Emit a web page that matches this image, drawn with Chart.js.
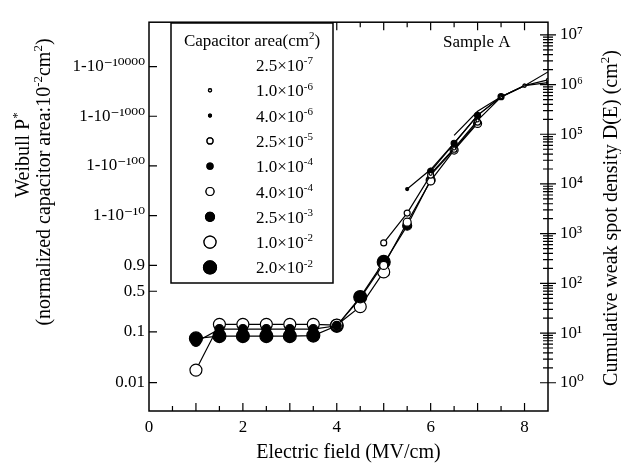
<!DOCTYPE html>
<html>
<head>
<meta charset="utf-8">
<script src="https://cdn.jsdelivr.net/npm/chart.js@4.4.0/dist/chart.umd.min.js"></script>
<style>
    html, body { margin: 0; padding: 0; background: #fff; }
</style>
</head>
<body>
<canvas id="graficaWeibull" width="621" height="467"></canvas>
<script>
// areas de capacitor (cm2) para la leyenda
var areaBase = ["2.5×10", "1.0×10", "4.0×10", "2.5×10", "1.0×10", "4.0×10", "2.5×10", "1.0×10", "2.0×10"];
var areaExp = ["-7", "-6", "-6", "-5", "-4", "-4", "-3", "-2", "-2"];

// campo electrico (MV/cm) y densidad acumulada D(E) (cm-2) de cada serie
var campo_A1 = [6.5, 7, 7.5, 8, 8.5];
var dens_A1 = [9.5e4, 2.9e5, 5.7e5, 9.5e5, 1.8e6];
var campo_A2 = [6, 6.5, 7, 7.5, 8, 8.5];
var dens_A2 = [1.6e4, 5.2e4, 1.9e5, 5.6e5, 9.5e5, 1.25e6];
var campo_A3 = [5.5, 6, 6.5, 7, 7.5, 8, 8.5];
var dens_A3 = [7.9e3, 1.95e4, 6.6e4, 2.4e5, 5.7e5, 9.5e5, 1.1e6];
var campo_A4 = [5, 5.5, 6, 6.5, 7];
var dens_A4 = [650, 2.6e3, 1.5e4, 5.0e4, 1.75e5];
var campo_A5 = [6, 6.5, 7, 7.5];
var dens_A5 = [1.8e4, 6.6e4, 2.4e5, 5.7e5];
var campo_A6 = [5, 5.5, 6, 6.5, 7];
var dens_A6 = [230, 1.7e3, 1.15e4, 4.8e4, 1.65e5];
var campo_A7 = [1, 1.5, 2, 2.5, 3, 3.5, 4, 4.5, 5, 5.5, 6];
var dens_A7 = [6.6, 12, 12, 12, 12, 12, 14, 50, 250, 1.45e3, 1.2e4];
var campo_A8 = [1, 1.5, 2, 2.5, 3, 3.5, 4, 4.5, 5];
var dens_A8 = [1.8, 15, 15, 15, 15, 15, 14.5, 34, 170];
var campo_A9 = [1, 1.5, 2, 2.5, 3, 3.5, 4, 4.5, 5];
var dens_A9 = [7.8, 8.7, 8.7, 8.7, 8.7, 8.9, 14, 53, 270];

// etiquetas del eje Weibull (izquierda)
var weibullP = [0.01, 0.1, 0.5, 0.9];
var weibullExp = [10, 100, 1000, 10000];
var areaNorm = 1e-2;

// estilo de marcadores
var radios = [0, 1.5, 1.5, 3, 3, 4, 4.5, 6, 6.5];
var rellenos = [false, false, true, false, true, false, true, false, true];

var campos = [campo_A1, campo_A2, campo_A3, campo_A4, campo_A5, campo_A6, campo_A7, campo_A8, campo_A9];
var densidades = [dens_A1, dens_A2, dens_A3, dens_A4, dens_A5, dens_A6, dens_A7, dens_A8, dens_A9];

var supMap = { "-": "⁻", "0": "⁰", "1": "¹", "2": "²", "3": "³", "4": "⁴", "5": "⁵", "6": "⁶", "7": "⁷", "8": "⁸", "9": "⁹" };
function sup(s) {
    return String(s).split("").map(function (c) { return supMap[c] || c; }).join("");
}

var weibullValores = [];
var weibullEtiquetas = [];
weibullP.forEach(function (p) {
    weibullValores.push(-Math.log(1 - p) / areaNorm);
    weibullEtiquetas.push(String(p));
});
weibullExp.forEach(function (n) {
    weibullValores.push(n * Math.LN10 / areaNorm);
    weibullEtiquetas.push("1-10" + sup("-" + n));
});

var FUENTE = '"Liberation Serif", "DejaVu Serif", serif';
function fuente(tam) { return tam + "px " + FUENTE; }

function textoRico(ctx, partes, x, y, tam, alinear) {
    var ancho = 0;
    partes.forEach(function (p) {
        ctx.font = fuente(p[1] ? Math.round(tam * 0.65) : tam);
        ancho += ctx.measureText(p[0]).width;
    });
    var xi = alinear === "center" ? x - ancho / 2 : (alinear === "right" ? x - ancho : x);
    ctx.textAlign = "left";
    ctx.textBaseline = "alphabetic";
    partes.forEach(function (p) {
        ctx.font = fuente(p[1] ? Math.round(tam * 0.65) : tam);
        ctx.fillText(p[0], xi, p[1] ? y - tam * 0.4 : y);
        xi += ctx.measureText(p[0]).width;
    });
}

var datasets = campos.map(function (c, i) {
    return {
        label: areaBase[i] + sup(areaExp[i]),
        data: c.map(function (x, j) { return { x: x, y: densidades[i][j] }; }),
        borderColor: "#000",
        borderWidth: 1.2,
        pointRadius: radios[i],
        pointHoverRadius: radios[i],
        pointBorderWidth: 1.2,
        pointBorderColor: "#000",
        pointBackgroundColor: rellenos[i] ? "#000" : "#fff",
        tension: 0,
        fill: false,
        xAxisID: "x",
        yAxisID: "y"
    };
});

// marcas hacia adentro, caja, leyenda y titulos laterales
var marcos = {
    id: "marcos",
    afterDraw: function (chart) {
        var ctx = chart.ctx;
        var area = chart.chartArea;
        var sx = chart.scales.x, sy = chart.scales.y, sw = chart.scales.yW;
        ctx.save();
        ctx.strokeStyle = "#000";
        ctx.fillStyle = "#000";
        ctx.lineWidth = 1.5;
        ctx.strokeRect(area.left, area.top, area.right - area.left, area.bottom - area.top);

        ctx.lineWidth = 1.2;
        ctx.beginPath();
        sx.ticks.forEach(function (t) {
            var px = sx.getPixelForValue(t.value);
            if (px <= area.left + 1 || px >= area.right - 1) return;
            var largo = t.value % 1 === 0 ? 8 : 5;
            ctx.moveTo(px, area.bottom); ctx.lineTo(px, area.bottom - largo);
            ctx.moveTo(px, area.top); ctx.lineTo(px, area.top + largo);
        });
        sw.ticks.forEach(function (t) {
            var py = sw.getPixelForValue(t.value);
            ctx.moveTo(area.left, py); ctx.lineTo(area.left + 8, py);
        });
        sy.ticks.forEach(function (t) {
            if (t.value < 1) return;
            var e = Math.floor(Math.log10(t.value) + 1e-9);
            var s = t.value / Math.pow(10, e);
            if (Math.abs(s - Math.round(s)) > 1e-6) return;
            var py = sy.getPixelForValue(t.value);
            var l = Math.round(s) === 1 ? 8 : 5;
            ctx.moveTo(area.right - l, py); ctx.lineTo(area.right + l, py);
        });
        ctx.stroke();

        // leyenda
        var lx = 171, ly = 23, lw = 162, lh = 260;
        ctx.lineWidth = 1.5;
        ctx.fillStyle = "#fff";
        ctx.fillRect(lx, ly, lw, lh);
        ctx.strokeRect(lx, ly, lw, lh);
        ctx.fillStyle = "#000";
        textoRico(ctx, [["Capacitor area(cm", false], ["2", true], [")", false]], lx + lw / 2, ly + 23, 17, "center");
        chart.data.datasets.forEach(function (ds, i) {
            var fy = ly + 42 + i * 25.3;
            if (ds.pointRadius > 0) {
                Chart.helpers.drawPoint(ctx, {
                    pointStyle: "circle",
                    radius: ds.pointRadius,
                    borderWidth: ds.pointBorderWidth,
                    rotation: 0
                }, lx + 39, fy);
                ctx.fillStyle = ds.pointBackgroundColor;
                ctx.strokeStyle = "#000";
                ctx.lineWidth = ds.pointBorderWidth;
                ctx.fill();
                ctx.stroke();
            }
            ctx.fillStyle = "#000";
            textoRico(ctx, [[areaBase[i], false], [areaExp[i], true]], lx + 85, fy + 6, 17, "left");
        });

        ctx.font = fuente(17);
        ctx.textAlign = "left";
        ctx.textBaseline = "middle";
        ctx.fillText("Sample A", 443, 43);

        // titulo izquierdo (dos lineas)
        ctx.save();
        ctx.translate(22, 155);
        ctx.rotate(-Math.PI / 2);
        textoRico(ctx, [["Weibull P", false], ["*", true]], 0, 7, 20, "center");
        ctx.restore();
        ctx.save();
        ctx.translate(43, 182);
        ctx.rotate(-Math.PI / 2);
        textoRico(ctx, [["(normalized capacitor area:10", false], ["-2", true], ["cm", false], ["2", true], [")", false]], 0, 7, 20, "center");
        ctx.restore();

        // titulo derecho
        ctx.save();
        ctx.translate(610, 218);
        ctx.rotate(-Math.PI / 2);
        textoRico(ctx, [["Cumulative weak spot density D(E) (cm", false], ["2", true], [")", false]], 0, 7, 20, "center");
        ctx.restore();

        ctx.restore();
    }
};

new Chart(document.getElementById("graficaWeibull"), {
    type: "line",
    data: { datasets: datasets },
    options: {
        responsive: false,
        animation: false,
        devicePixelRatio: 1,
        layout: { padding: { top: 12, left: 0, right: 0, bottom: 0 } },
        plugins: {
            legend: { display: false },
            tooltip: { enabled: false }
        },
        scales: {
            x: {
                type: "linear",
                position: "bottom",
                min: 0,
                max: 8.5,
                grid: { display: false, drawTicks: false, tickLength: 0 },
                border: { display: false },
                ticks: {
                    stepSize: 0.5,
                    autoSkip: false,
                    maxRotation: 0,
                    padding: 6,
                    color: "#000",
                    font: { family: FUENTE, size: 17 },
                    callback: function (v) { return v % 2 === 0 ? String(v) : ""; }
                },
                title: {
                    display: true,
                    text: "Electric field (MV/cm)",
                    color: "#000",
                    font: { family: FUENTE, size: 20 },
                    padding: 2
                },
                afterFit: function (s) { s.height = 56; }
            },
            yW: {
                type: "logarithmic",
                position: "left",
                min: 0.27,
                max: 1.8e7,
                grid: { display: false, drawTicks: false, tickLength: 0 },
                border: { display: false },
                afterBuildTicks: function (s) {
                    s.ticks = weibullValores.map(function (v) { return { value: v }; });
                },
                ticks: {
                    autoSkip: false,
                    padding: 4,
                    color: "#000",
                    font: { family: FUENTE, size: 17 },
                    callback: function (v, i) { return weibullEtiquetas[i]; }
                },
                afterFit: function (s) { s.width = 149; }
            },
            y: {
                type: "logarithmic",
                position: "right",
                min: 0.27,
                max: 1.8e7,
                grid: { display: false, drawTicks: false, tickLength: 0 },
                border: { display: false },
                ticks: {
                    autoSkip: false,
                    padding: 12,
                    color: "#000",
                    font: { family: FUENTE, size: 17 },
                    callback: function (v) {
                        var e = Math.log10(v);
                        if (v >= 1 && Math.abs(e - Math.round(e)) < 1e-9) return "10" + sup(Math.round(e));
                        return "";
                    }
                },
                afterFit: function (s) { s.width = 73; }
            }
        }
    },
    plugins: [marcos]
});
</script>
</body>
</html>
